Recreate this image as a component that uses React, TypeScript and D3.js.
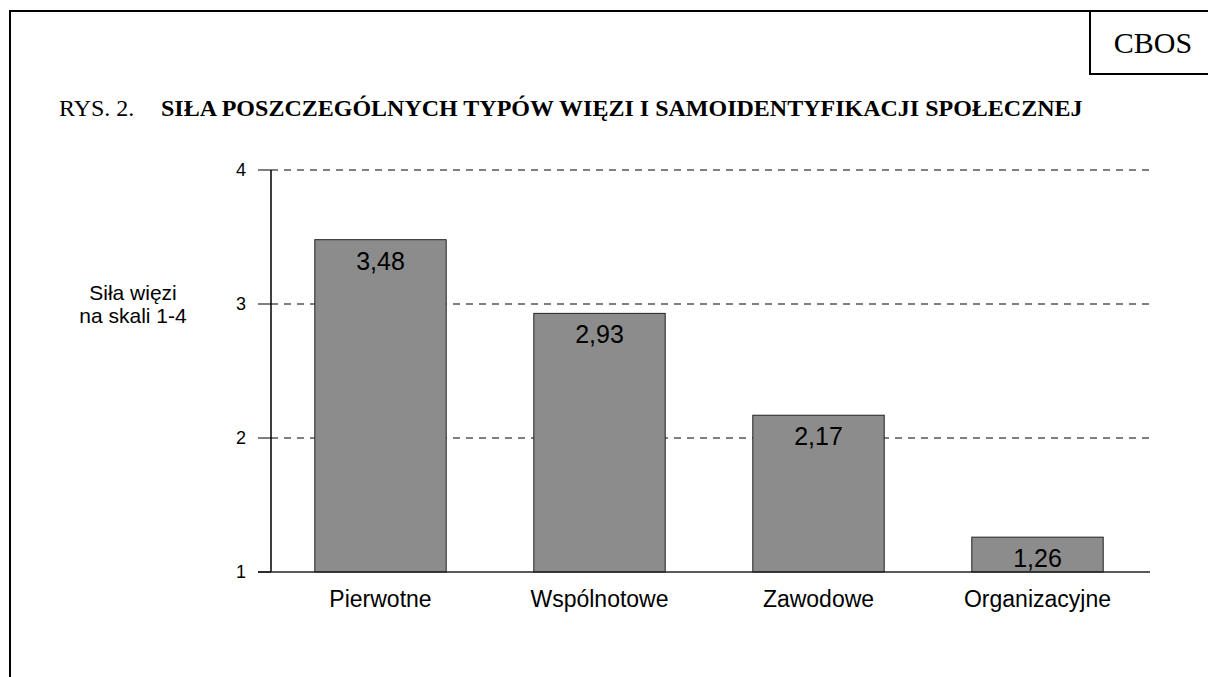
import React from "react";
import * as d3 from "d3";

const categories = ["Pierwotne", "Wspólnotowe", "Zawodowe", "Organizacyjne"];
const values = [3.48, 2.93, 2.17, 1.26];
const yTicks = [1, 2, 3, 4];

const width = 1208;
const height = 677;
const plot = { left: 271, right: 1147, top: 170, bottom: 572 };

const App = () => {
  const x = d3
    .scaleBand<string>()
    .domain(categories)
    .range([plot.left, plot.right])
    .paddingInner(0.4)
    .paddingOuter(0.2);
  const y = d3.scaleLinear().domain([1, 4]).range([plot.bottom, plot.top]);
  const fmt = (v: number) => v.toFixed(2).replace(".", ",");

  return (
    <svg
      width={width}
      height={height}
      style={{ position: "absolute", left: 0, top: 0, background: "#fff" }}
    >
      {/* frame */}
      <path d={`M10,${height} V11 H${width}`} fill="none" stroke="#000" strokeWidth={2} />
      <path d={`M1090,11 V74 H${width}`} fill="none" stroke="#000" strokeWidth={2} />
      <text x={1153} y={53} textAnchor="middle" fontFamily="Liberation Serif" fontSize={30}>
        CBOS
      </text>

      <text y={116} fontFamily="Liberation Serif" fontSize={24}>
        <tspan x={59}>RYS. 2.</tspan>
        <tspan x={161} fontWeight="bold">
          SIŁA POSZCZEGÓLNYCH TYPÓW WIĘZI I SAMOIDENTYFIKACJI SPOŁECZNEJ
        </tspan>
      </text>

      {/* gridlines */}
      {yTicks.slice(1).map((t) => (
        <line
          key={t}
          x1={plot.left}
          x2={plot.right + 3}
          y1={y(t)}
          y2={y(t)}
          stroke="#000"
          strokeDasharray="7,6"
        />
      ))}

      {/* bars */}
      {categories.map((c, i) => (
        <g key={c}>
          <rect
            x={x(c)}
            y={y(values[i])}
            width={x.bandwidth()}
            height={y(1) - y(values[i])}
            fill="#8c8c8c"
            stroke="#222"
            strokeWidth={1}
          />
          <text
            x={x(c)! + x.bandwidth() / 2}
            y={y(values[i]) + 30}
            textAnchor="middle"
            fontFamily="Liberation Sans"
            fontSize={25}
            fill="#000"
          >
            {fmt(values[i])}
          </text>
          <text
            x={x(c)! + x.bandwidth() / 2}
            y={607}
            textAnchor="middle"
            fontFamily="Liberation Sans"
            fontSize={23}
          >
            {c}
          </text>
        </g>
      ))}

      {/* axes */}
      <line x1={plot.left} x2={plot.left} y1={plot.top} y2={plot.bottom} stroke="#000" strokeWidth={1.5} />
      <line x1={258} x2={plot.right + 3} y1={plot.bottom} y2={plot.bottom} stroke="#222" strokeWidth={1.5} />
      {yTicks.map((t) => (
        <g key={t}>
          <line x1={258} x2={plot.left} y1={y(t)} y2={y(t)} stroke="#000" />
          <text
            x={246}
            y={y(t) + 6}
            textAnchor="end"
            fontFamily="Liberation Sans"
            fontSize={18}
          >
            {t}
          </text>
        </g>
      ))}

      <text textAnchor="middle" fontFamily="Liberation Sans" fontSize={21}>
        <tspan x={133} y={300}>Siła więzi</tspan>
        <tspan x={133} y={323}>na skali 1-4</tspan>
      </text>
    </svg>
  );
};

export default App;
